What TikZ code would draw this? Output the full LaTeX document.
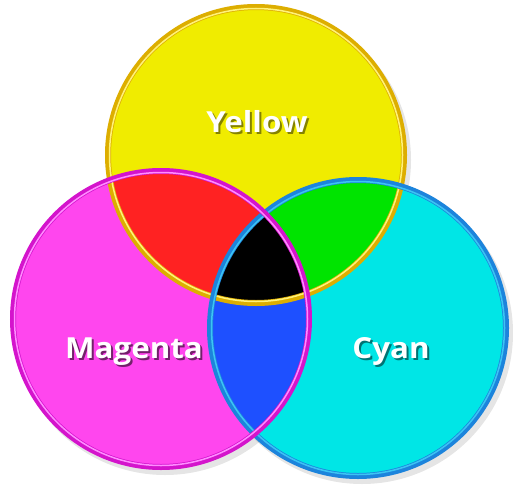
\documentclass[tikz,border=0pt]{standalone}
\usepackage{fontspec}
\setmainfont{Open Sans}[FakeStretch=1.08]
\usetikzlibrary{positioning}
\definecolor{yfill}{HTML}{F0EC00}
\definecolor{mfill}{HTML}{FF46EE}
\definecolor{cfill}{HTML}{00E6E6}
\definecolor{rfill}{HTML}{FF2222}
\definecolor{gfill}{HTML}{00E400}
\definecolor{bfill}{HTML}{1E50FF}
\definecolor{ydark}{HTML}{DDAE00}
\definecolor{ylite}{HTML}{FFF27A}
\definecolor{mdark}{HTML}{D414CC}
\definecolor{mlite}{HTML}{FF8CFF}
\definecolor{cdark}{HTML}{1C84DC}
\definecolor{clite}{HTML}{3CC4F4}
% white text with a dark drop shadow
\newcommand{\dropped}[2]{\makebox[0pt][l]{\hspace{2pt}\raisebox{-2.5pt}{\textcolor{#1}{#2}}}#2}
\tikzset{
  ring/.style={draw=#1, line width=6pt},
  glint/.style={draw=#1, line width=1.5pt},
  cmytext/.style={font=\fontsize{29}{31}\selectfont\bfseries, text=white, anchor=base, inner sep=0pt}
}
\begin{document}
\begin{tikzpicture}[x=1pt, y=-1pt]
  \useasboundingbox (0,0) rectangle (513,484);
  \def\rad{148}
  % circle centres
  \coordinate (ycen) at (256,155);
  \coordinate (mcen) at (161,319);
  \coordinate (ccen) at (358,328);
  % soft shadows
  \foreach \c in {ycen,mcen,ccen}{
    \fill[black, opacity=0.10] ([shift={(4,5)}]\c) circle (\rad+3);
  }
  % base fills
  \fill[yfill] (ycen) circle (\rad);
  \fill[mfill] (mcen) circle (\rad);
  \fill[cfill] (ccen) circle (\rad);
  % overlaps
  \begin{scope}
    \clip (ycen) circle (\rad);
    \fill[rfill] (mcen) circle (\rad);
    \fill[gfill] (ccen) circle (\rad);
  \end{scope}
  \begin{scope}
    \clip (mcen) circle (\rad);
    \fill[bfill] (ccen) circle (\rad);
    \clip (ycen) circle (\rad);
    \fill[black] (ccen) circle (\rad);
  \end{scope}
  % rings
  \draw[ring=ydark] (ycen) circle (\rad);
  \draw[glint=ylite] (ycen) circle (\rad-1.5);
  \draw[ring=cdark] (ccen) circle (\rad);
  \draw[glint=clite] (ccen) circle (\rad-1.5);
  \draw[ring=mdark] (mcen) circle (\rad);
  \draw[glint=mlite] (mcen) circle (\rad-1.5);
  % labels
  \node[cmytext] (yellowlbl) at (257,132) {\dropped{yfill!55!black}{Yellow}};
  \node[cmytext] (magentalbl) at (134,358) {\dropped{mfill!45!black}{Magenta}};
  \node[cmytext] (cyanlbl) at (391,358) {\dropped{cfill!50!black}{Cyan}};
\end{tikzpicture}
\end{document}
